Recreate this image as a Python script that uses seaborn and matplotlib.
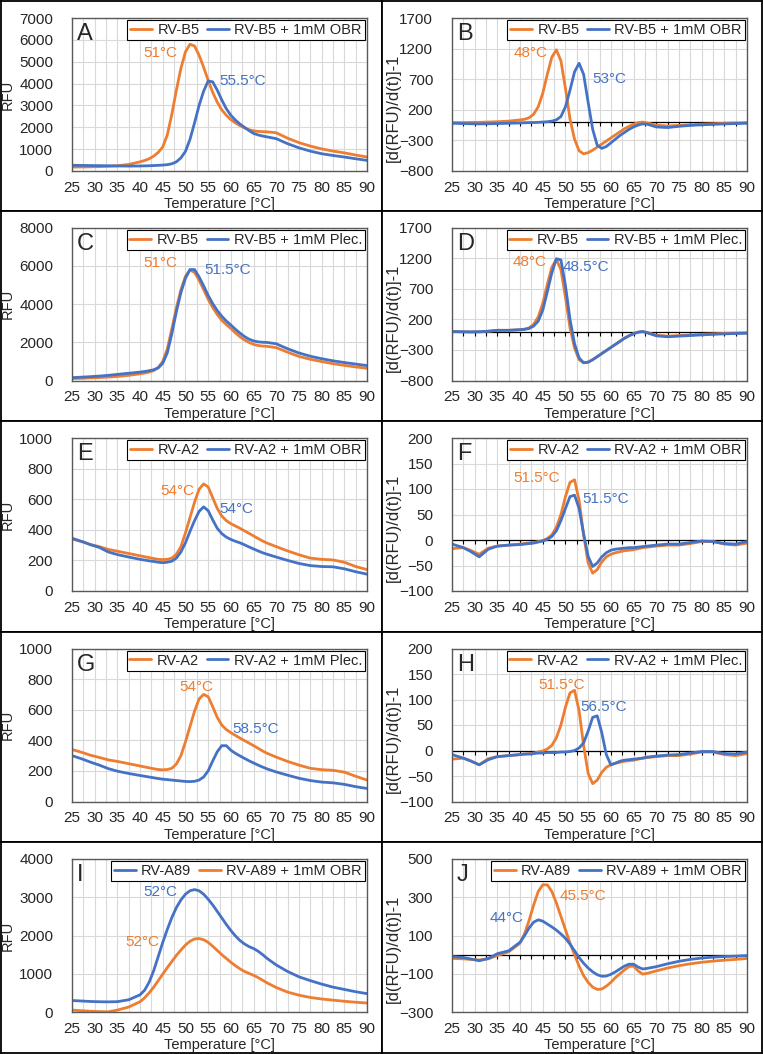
import numpy as np
import matplotlib
matplotlib.use("Agg")
from matplotlib import pyplot as plt
from matplotlib.ticker import MultipleLocator
import seaborn as sb

sb.set_style("white")
plt.rcParams['font.family'] = ['Liberation Sans', 'DejaVu Sans']

ORANGE = '#ED7D31'
BLUE = '#4472C4'

# temperature grid shared by all curves
temp = [25, 27.5, 29, 31, 33, 35, 37.5, 40, 41, 42, 43, 44, 45, 46, 47, 48,
        49, 50, 51, 52, 53, 54, 55, 56, 57, 58, 59, 60, 61, 62, 63, 64, 65,
        66, 67, 68, 70, 72.5, 75, 77.5, 80, 82.5, 85, 87.5, 90]

# A - RV-B5 +/- OBR, melt curve
a_b5 = [180, 185, 190, 200, 215, 240, 300, 420, 480, 560, 680, 850, 1100, 1650,
        2600, 3700, 4700, 5450, 5800, 5720, 5300, 4750, 4150, 3600, 3150, 2800,
        2550, 2350, 2200, 2080, 1970, 1890, 1840, 1810, 1800, 1790, 1750, 1500,
        1300, 1140, 1010, 910, 830, 730, 640]
a_b5_obr = [260, 255, 250, 245, 240, 230, 225, 230, 235, 240, 250, 260, 270, 290,
            330, 420, 600, 900, 1450, 2200, 3000, 3650, 4120, 4080, 3700, 3250,
            2850, 2550, 2330, 2150, 2000, 1850, 1720, 1650, 1600, 1560, 1480,
            1250, 1060, 910, 790, 710, 640, 560, 485]

# B - derivative
b_b5 = [-10, -10, -8, -5, 0, 5, 15, 35, 45, 70, 130, 250, 470, 780, 1060, 1180,
        1000, 550, 50, -280, -470, -520, -500, -460, -410, -360, -310, -260,
        -210, -160, -110, -70, -35, -10, 0, -15, -50, -65, -55, -45, -35, -28,
        -20, -15, -10]
b_b5_obr = [-20, -25, -28, -30, -28, -25, -20, -15, -12, -10, -8, -5, 0, 5, 15,
            35, 90, 250, 520, 820, 960, 780, 320, -120, -380, -430, -400, -340,
            -280, -220, -170, -120, -80, -50, -30, -35, -80, -90, -70, -55, -45,
            -38, -30, -25, -20]

# C - RV-B5 +/- Plec., melt curve
c_b5 = [100, 120, 135, 155, 180, 210, 270, 350, 390, 440, 520, 680, 1000, 1650,
        2700, 3800, 4750, 5450, 5780, 5650, 5250, 4750, 4250, 3820, 3450, 3150,
        2920, 2720, 2490, 2290, 2120, 1990, 1890, 1830, 1800, 1785, 1720, 1480,
        1260, 1110, 990, 880, 790, 710, 640]
c_b5_plec = [150, 180, 200, 230, 270, 320, 380, 440, 470, 510, 560, 660, 900,
             1450, 2450, 3600, 4600, 5350, 5800, 5800, 5420, 4950, 4450, 4020,
             3660, 3360, 3110, 2900, 2680, 2480, 2300, 2160, 2070, 2020, 2000,
             1990, 1920, 1660, 1440, 1270, 1140, 1030, 940, 860, 780]

# D - derivative
d_b5 = [0, -5, -8, -5, 5, 20, 20, 30, 40, 60, 120, 240, 460, 770, 1050, 1180,
        1010, 560, 60, -270, -460, -510, -500, -460, -410, -360, -310, -260,
        -210, -160, -110, -70, -35, -10, 0, -15, -60, -75, -65, -55, -45, -38,
        -30, -25, -20]
d_b5_plec = [0, -3, -5, -3, 5, 20, 20, 30, 35, 50, 90, 170, 350, 650, 960, 1190,
             1170, 750, 200, -200, -430, -510, -500, -460, -410, -360, -310,
             -260, -210, -160, -110, -70, -35, -10, 0, -20, -70, -85, -75, -65,
             -55, -45, -38, -32, -28]

# E - RV-A2 +/- OBR, melt curve
e_a2 = [340, 320, 305, 290, 272, 260, 245, 230, 224, 218, 212, 207, 205, 207,
        215, 240, 290, 380, 480, 580, 665, 700, 680, 610, 540, 490, 460, 440,
        425, 410, 393, 377, 360, 343, 327, 313, 290, 262, 237, 215, 207, 203,
        188, 160, 140]
e_a2_obr = [345, 320, 303, 285, 255, 238, 222, 207, 202, 197, 193, 188, 185,
            188, 195, 215, 255, 315, 390, 460, 520, 550, 525, 465, 410, 375,
            352, 337, 325, 315, 302, 288, 275, 262, 250, 240, 222, 200, 180,
            166, 160, 158, 145, 126, 110]

# F - derivative
f_a2 = [-17, -15, -20, -28, -16, -12, -10, -8, -7, -6, -5, -3, -1, 3, 10, 25,
        50, 85, 113, 118, 78, 10, -45, -65, -58, -43, -33, -28, -25, -23, -21,
        -20, -19, -17, -15, -14, -12, -10, -10, -7, -3, -3, -8, -10, -6]
f_a2_obr = [-8, -15, -22, -33, -18, -12, -10, -9, -8, -7, -6, -4, -2, 1, 7, 18,
            38, 62, 85, 88, 62, 12, -32, -52, -45, -33, -25, -20, -18, -17, -16,
            -15, -15, -14, -13, -12, -10, -8, -8, -5, -2, -3, -7, -8, -3]

# G - RV-A2 +/- Plec., melt curve
g_a2 = [340, 318, 303, 288, 272, 262, 247, 232, 226, 220, 214, 209, 207, 209,
        217, 245, 300, 390, 490, 590, 670, 700, 685, 620, 550, 500, 470, 450,
        432, 415, 398, 382, 365, 348, 330, 315, 290, 262, 238, 217, 208, 204,
        192, 165, 140]
g_a2_plec = [300, 275, 258, 238, 215, 198, 183, 170, 165, 160, 155, 150, 146,
             143, 140, 137, 134, 131, 130, 132, 140, 160, 200, 265, 325, 365,
             365, 335, 315, 298, 282, 266, 252, 238, 225, 213, 193, 172, 152,
             137, 127, 122, 112, 97, 85]

# H - derivative
h_a2 = [-17, -15, -20, -28, -16, -12, -10, -8, -7, -6, -5, -3, -1, 3, 10, 25,
        50, 85, 113, 118, 78, 10, -45, -65, -58, -43, -33, -28, -25, -23, -21,
        -20, -19, -17, -15, -14, -12, -10, -10, -7, -3, -3, -8, -10, -6]
h_a2_plec = [-8, -15, -20, -28, -18, -12, -10, -8, -7, -7, -6, -5, -5, -4, -4,
             -4, -3, -3, -2, 0, 5, 15, 38, 65, 68, 35, -8, -28, -25, -21, -19,
             -18, -17, -16, -15, -13, -11, -9, -8, -5, -2, -2, -6, -7, -3]

# I - RV-A89 +/- OBR, melt curve
i_a89 = [300, 285, 275, 268, 265, 270, 320, 450, 570, 780, 1080, 1450, 1820,
         2160, 2470, 2730, 2930, 3080, 3170, 3200, 3170, 3080, 2950, 2800, 2630,
         2460, 2290, 2130, 1990, 1870, 1780, 1710, 1660, 1590, 1500, 1400, 1230,
         1060, 920, 820, 730, 650, 590, 530, 480]
i_a89_obr = [50, 30, 20, 10, 5, 50, 130, 270, 370, 500, 650, 820, 990, 1160,
             1320, 1480, 1620, 1750, 1850, 1910, 1920, 1890, 1820, 1720, 1610,
             1500, 1400, 1300, 1210, 1130, 1060, 1010, 960, 900, 830, 760, 640,
             520, 440, 380, 340, 310, 280, 255, 235]

# J - derivative
j_a89 = [-20, -22, -25, -28, -22, -5, 15, 60, 110, 180, 260, 330, 365, 365, 330,
         270, 200, 130, 60, 0, -60, -110, -145, -170, -182, -180, -165, -145,
         -120, -100, -80, -62, -60, -85, -102, -98, -85, -70, -58, -48, -40,
         -34, -29, -25, -20]
j_a89_obr = [-10, -15, -22, -32, -20, 5, 20, 65, 100, 140, 170, 182, 175, 160,
             145, 128, 108, 85, 55, 20, -15, -45, -70, -90, -105, -113, -112,
             -103, -90, -75, -60, -50, -50, -65, -75, -72, -63, -48, -35, -25,
             -18, -13, -10, -8, -5]

xticks = list(range(25, 91, 5))
deriv_label = '[d(RFU)/d(t)]-1'

panels = [
    dict(letter='A', ylim=(0, 7000), ystep=1000, ylabel='RFU',
         series=[('RV-B5', ORANGE, a_b5), ('RV-B5 + 1mM OBR', BLUE, a_b5_obr)],
         notes=[(44.5, 5400, '51°C', ORANGE), (62.6, 4140, '55.5°C', BLUE)]),
    dict(letter='B', ylim=(-800, 1700), ystep=500, ylabel=deriv_label,
         series=[('RV-B5', ORANGE, b_b5), ('RV-B5 + 1mM OBR', BLUE, b_b5_obr)],
         notes=[(42.4, 1130, '48°C', ORANGE), (59.7, 710, '53°C', BLUE)]),
    dict(letter='C', ylim=(0, 8000), ystep=2000, ylabel='RFU',
         series=[('RV-B5', ORANGE, c_b5), ('RV-B5 + 1mM Plec.', BLUE, c_b5_plec)],
         notes=[(44.5, 6150, '51°C', ORANGE), (59.2, 5770, '51.5°C', BLUE)]),
    dict(letter='D', ylim=(-800, 1700), ystep=500, ylabel=deriv_label,
         series=[('RV-B5', ORANGE, d_b5), ('RV-B5 + 1mM Plec.', BLUE, d_b5_plec)],
         notes=[(42.1, 1130, '48°C', ORANGE), (54.6, 1050, '48.5°C', BLUE)]),
    dict(letter='E', ylim=(0, 1000), ystep=200, ylabel='RFU',
         series=[('RV-A2', ORANGE, e_a2), ('RV-A2 + 1mM OBR', BLUE, e_a2_obr)],
         notes=[(48.3, 655, '54°C', ORANGE), (61.2, 533, '54°C', BLUE)]),
    dict(letter='F', ylim=(-100, 200), ystep=50, ylabel=deriv_label,
         series=[('RV-A2', ORANGE, f_a2), ('RV-A2 + 1mM OBR', BLUE, f_a2_obr)],
         notes=[(43.6, 122, '51.5°C', ORANGE), (58.8, 81, '51.5°C', BLUE)]),
    dict(letter='G', ylim=(0, 1000), ystep=200, ylabel='RFU',
         series=[('RV-A2', ORANGE, g_a2), ('RV-A2 + 1mM Plec.', BLUE, g_a2_plec)],
         notes=[(52.4, 749, '54°C', ORANGE), (65.5, 471, '58.5°C', BLUE)]),
    dict(letter='H', ylim=(-100, 200), ystep=50, ylabel=deriv_label,
         series=[('RV-A2', ORANGE, h_a2), ('RV-A2 + 1mM Plec.', BLUE, h_a2_plec)],
         notes=[(49.1, 128, '51.5°C', ORANGE), (58.4, 85, '56.5°C', BLUE)]),
    dict(letter='I', ylim=(0, 4000), ystep=1000, ylabel='RFU',
         series=[('RV-A89', BLUE, i_a89), ('RV-A89 + 1mM OBR', ORANGE, i_a89_obr)],
         notes=[(44.5, 3130, '52°C', BLUE), (40.4, 1840, '52°C', ORANGE)]),
    dict(letter='J', ylim=(-300, 500), ystep=200, ylabel=deriv_label,
         series=[('RV-A89', ORANGE, j_a89), ('RV-A89 + 1mM OBR', BLUE, j_a89_obr)],
         notes=[(53.8, 306, '45.5°C', ORANGE), (37.0, 194, '44°C', BLUE)]),
]

W, H = 763, 1054
fig = plt.figure(figsize=(W / 100, H / 100), dpi=100)

row_edges = [1, 210.5, 421, 631.5, 842, 1053]
col_edges = [1, 382, 762]
ax_left = [72, 452]

for i, p in enumerate(panels):
    r, c = divmod(i, 2)
    top, bot = row_edges[r], row_edges[r + 1]
    # panel frame
    bg = fig.add_axes([col_edges[c] / W, 1 - bot / H,
                       (col_edges[c + 1] - col_edges[c]) / W, (bot - top) / H])
    bg.set_xticks([])
    bg.set_yticks([])
    for s in bg.spines.values():
        s.set_color('black')
        s.set_linewidth(1.3)
    bg.set_zorder(0)

    ax = fig.add_axes([ax_left[c] / W, 1 - (top + 170) / H, 295 / W, 153 / H])
    ax.set_zorder(1)
    for lab, col, vals in p['series']:
        sb.lineplot(x=temp, y=vals, color=col, lw=2.0, label=lab, ax=ax)

    y0, y1 = p['ylim']
    ax.set_xlim(25, 90)
    ax.set_ylim(y0, y1)
    ax.set_xticks(xticks)
    ax.xaxis.set_minor_locator(MultipleLocator(2.5))
    ax.set_yticks(np.arange(y0, y1 + 1, p['ystep']))
    ax.grid(True, which='both', axis='x', color='#d9d9d9', lw=0.8)
    ax.grid(True, which='major', axis='y', color='#d9d9d9', lw=0.8)
    ax.set_axisbelow(True)
    ax.tick_params(axis='both', which='both', length=0, labelsize=11)
    ax.tick_params(axis='y', pad=13.5)
    ax.tick_params(axis='x', pad=7)
    for s in ax.spines.values():
        s.set_color('#595959')
        s.set_linewidth(1.0)

    ax.set_xlabel('Temperature [°C]', fontsize=10.5)
    ax.xaxis.set_label_coords(0.5, -0.17)
    if y0 < 0:
        ax.axhline(0, color='black', lw=0.9, zorder=1.5)
        ax.plot(np.arange(25, 90.01, 2.5), np.zeros(27), ls='none', marker=3,
                ms=3, mew=0.8, color='black', zorder=1.5)
        ax.set_ylabel(p['ylabel'], fontsize=12)
        ax.yaxis.set_label_coords(-0.172, 0.41)
    else:
        ax.set_ylabel(p['ylabel'], fontsize=10.5)
        ax.yaxis.set_label_coords(-0.193, 0.5)

    for nx, ny, txt, col in p['notes']:
        ax.text(nx, ny, txt, color=col, fontsize=11, ha='center', va='center')

    ax.text(0.017, 0.965, p['letter'], transform=ax.transAxes, fontsize=17,
            ha='left', va='top')

    leg = ax.legend(loc='upper right', bbox_to_anchor=(1, 1), ncol=2,
                    fontsize=10.5, frameon=True, fancybox=False, framealpha=1,
                    edgecolor='black', borderpad=0.2, borderaxespad=0.15,
                    handlelength=1.5, handletextpad=0.35, columnspacing=0.55)
    leg.get_frame().set_linewidth(0.8)

fig.savefig('out.png', dpi=100)
